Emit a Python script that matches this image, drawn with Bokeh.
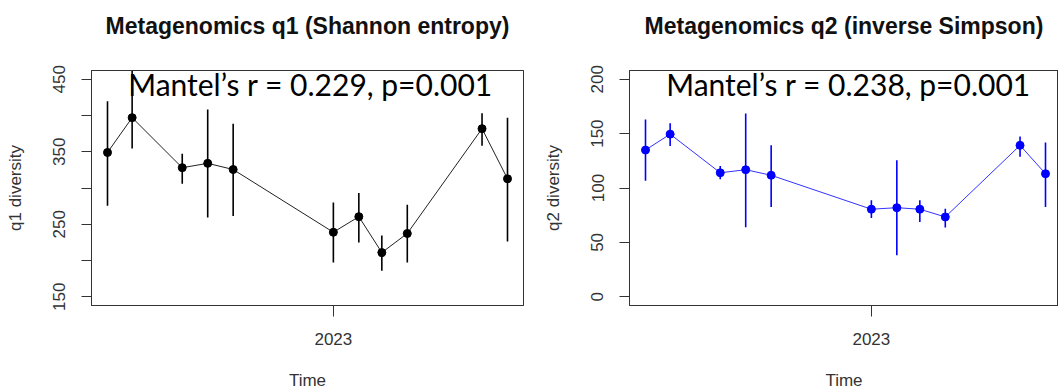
import pandas as pd
from bokeh.plotting import figure
from bokeh.layouts import row
from bokeh.models import Range1d, FixedTicker, Label, LinearAxis
from bokeh.embed import file_html
from bokeh.resources import INLINE

# ---- data ----
dates = ["2022-04-01", "2022-05-01", "2022-07-01", "2022-08-01", "2022-09-01",
         "2023-01-01", "2023-02-01", "2023-03-01", "2023-04-01", "2023-07-01", "2023-08-01"]
q1_mean = [349, 397, 328, 334, 325.5, 239, 260.5, 211, 237.3, 381.8, 312.7]
q1_low = [275.4, 354.5, 305.9, 259.5, 261.4, 197.3, 225, 185.9, 197.3, 358.2, 226.4]
q1_high = [419.6, 470, 347.3, 408.1, 388.6, 280, 293.2, 234.5, 276.8, 403.2, 396.8]
q2_mean = [134.9, 149.5, 114, 116.8, 111.7, 80.5, 81.9, 80.5, 73.4, 139.2, 113.1]
q2_low = [106.7, 138.5, 108, 63.9, 82.6, 72.5, 38.3, 68.8, 63.6, 128.7, 82.6]
q2_high = [163, 159.6, 120.2, 168.5, 139.4, 88.7, 125.4, 88.7, 81, 147.4, 141.9]

q1_ylim = [150, 450]
q1_ticks = [150, 200, 250, 300, 350, 400, 450]
q1_tick_labels = ["150", "", "250", "", "350", "", "450"]
q2_ylim = [0, 200]
q2_ticks = [0, 50, 100, 150, 200]
q2_tick_labels = ["0", "50", "100", "150", "200"]
x_ticks = ["2023-01-01"]
x_tick_labels = ["2023"]

titles = ["Metagenomics q1 (Shannon entropy)", "Metagenomics q2 (inverse Simpson)"]
ylabels = ["q1 diversity", "q2 diversity"]
xlabel = "Time"
mantel = ["Mantel\u2019s r = 0.229, p=0.001", "Mantel\u2019s r = 0.238, p=0.001"]


def to_ms(s):
    return pd.Timestamp(s).value / 1e6


x = [to_ms(d) for d in dates]
span = max(x) - min(x)
x0 = min(x) - 0.04 * span
x1_full = max(x) + 0.04 * span
FULL_W = 432
TXT = "#333333"
H = 392


def panel(k, mean, low, high, color, line_color, ylim, ticks, tlabels,
          width, mbl, mbr, mbt, mbb):
    frame_w = width - mbl - mbr
    x1 = x0 + (x1_full - x0) * frame_w / FULL_W
    yr = ylim[1] - ylim[0]
    y0, y1 = ylim[0] - 0.04 * yr, ylim[1] + 0.04 * yr
    p = figure(width=width, height=H, output_backend="svg", toolbar_location=None,
               x_range=Range1d(x0, x1), y_range=Range1d(y0, y1),
               min_border_left=mbl, min_border_right=mbr,
               min_border_top=mbt, min_border_bottom=mbb)
    p.background_fill_color = "white"
    p.border_fill_color = "white"
    p.outline_line_color = TXT
    p.outline_line_width = 1
    p.xgrid.visible = False
    p.ygrid.visible = False

    p.segment(x0=x, y0=low, x1=x, y1=high, line_color=color, line_width=1.6)
    p.line(x, mean, line_color=line_color, line_width=1)
    p.scatter(x, mean, size=8, color=color)

    xa = p.below[0]
    ya = p.left[0]

    # title drawn as the label of a tick-less axis above the frame
    top = LinearAxis(ticker=FixedTicker(ticks=[]), axis_label=titles[k])
    top.axis_line_color = TXT
    top.major_tick_out = 0
    top.major_tick_in = 0
    top.minor_tick_line_color = None
    top.major_label_standoff = 0
    top.axis_label_standoff = 32
    top.axis_label_text_font = "Liberation Sans"
    top.axis_label_text_font_style = "bold"
    top.axis_label_text_font_size = "23px"
    top.axis_label_text_color = "#111111"
    p.add_layout(top, "above")

    for ax in (xa, ya):
        ax.axis_line_color = TXT
        ax.major_tick_line_color = TXT
        ax.minor_tick_line_color = None
        ax.major_tick_in = 0
        ax.major_label_text_font = "Liberation Sans"
        ax.major_label_text_font_size = "17px"
        ax.major_label_text_color = TXT
        ax.axis_label_text_font = "Liberation Sans"
        ax.axis_label_text_font_size = "17px"
        ax.axis_label_text_font_style = "normal"
        ax.axis_label_text_color = TXT

    ya.ticker = FixedTicker(ticks=ticks)
    ya.major_label_overrides = {t: l for t, l in zip(ticks, tlabels)}
    ya.major_label_orientation = "vertical"
    ya.major_tick_out = 10
    ya.major_label_standoff = 16
    ya.axis_label = ylabels[k]
    ya.axis_label_standoff = 26

    xt = [to_ms(d) for d in x_ticks]
    xa.ticker = FixedTicker(ticks=xt)
    xa.major_label_overrides = {t: l for t, l in zip(xt, x_tick_labels)}
    xa.major_tick_out = 11
    xa.major_label_standoff = 16
    xa.axis_label = xlabel
    xa.axis_label_standoff = 23

    lx = x0 + 0.507 * (x1_full - x0)
    ly = y1 - 0.058 * (y1 - y0)
    p.add_layout(Label(x=lx, y=ly, text=mantel[k], text_font="Lato",
                       text_font_size="30px", text_align="center",
                       text_baseline="alphabetic", text_color="black"))
    return p


p1 = panel(0, q1_mean, q1_low, q1_high, "black", "#222222", q1_ylim, q1_ticks,
           q1_tick_labels, 540, 91, 17, 69, 87)
p2 = panel(1, q2_mean, q2_low, q2_high, "#0000ff", "#3333ff", q2_ylim, q2_ticks,
           q2_tick_labels, 518, 89, 0, 70, 86)

layout = row(p1, p2)
open("out.html", "w").write(file_html(layout, INLINE))
